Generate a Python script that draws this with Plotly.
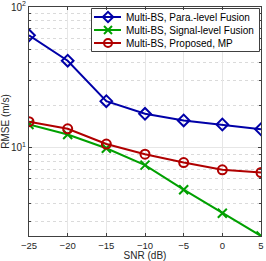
import plotly.graph_objects as go
import math

snr = [-25, -20, -15, -10, -5, 0, 5]
para_fusion = [62.9, 41.5, 21.4, 17.4, 15.6, 14.6, 13.5]
signal_fusion = [14.6, 12.4, 9.9, 7.5, 5.02, 3.41, 2.35]
proposed_mp = [15.3, 13.6, 10.6, 8.98, 7.83, 6.95, 6.65]
names = ["Multi-BS, Para.-level Fusion", "Multi-BS, Signal-level Fusion", "Multi-BS, Proposed, MP"]
colors = ["#0000a8", "#00a000", "#b00000"]
symbols = ["diamond-open", "x-thin-open", "circle-open"]
marker_sizes = [9, 9, 9]
x_ticks = [-25, -20, -15, -10, -5, 0, 5]
y_major = [10, 100]
y_major_text = ["10<sup>1</sup>", "10<sup>2</sup>"]
y_minor = [3, 4, 5, 6, 7, 8, 9, 20, 30, 40, 50, 60, 70, 80, 90]

# Plot area in page pixels (for the legend overlay)
W, H = 266, 261
ML, MR, MT, MB = 29, 5, 7, 25
PX0, PX1 = ML, W - MR
PY0, PY1 = MT, H - MB

fig = go.Figure()
for ys, nm, c, s, ms in zip([para_fusion, signal_fusion, proposed_mp], names, colors, symbols, marker_sizes):
    fig.add_trace(go.Scatter(
        x=snr, y=ys, name=nm, mode="lines+markers", showlegend=False,
        line=dict(color=c, width=2),
        marker=dict(symbol=s, size=ms, color=c, line=dict(color=c, width=2)),
    ))

# Legend (drawn on an overlay axis measured in page pixels)
LB_X0, LB_X1, LB_Y0, LB_Y1 = 91.5, 259.5, 8.5, 51.5
rows_y = [17, 30, 43]
fig.add_trace(go.Scatter(
    x=[LB_X0, LB_X1, LB_X1, LB_X0, LB_X0], y=[LB_Y0, LB_Y0, LB_Y1, LB_Y1, LB_Y0],
    xaxis="x2", yaxis="y2", mode="lines", fill="toself", fillcolor="white",
    line=dict(color="#404040", width=1), showlegend=False, hoverinfo="skip",
))
for ry, nm, c, s in zip(rows_y, names, colors, symbols):
    fig.add_trace(go.Scatter(
        x=[94, 121], y=[ry, ry], xaxis="x2", yaxis="y2", mode="lines",
        line=dict(color=c, width=2), showlegend=False, hoverinfo="skip",
    ))
    fig.add_trace(go.Scatter(
        x=[108], y=[ry], xaxis="x2", yaxis="y2", mode="markers",
        marker=dict(symbol=s, size=8, color=c, line=dict(color=c, width=2)),
        showlegend=False, hoverinfo="skip",
    ))
    fig.add_annotation(x=124, y=ry, xref="x2", yref="y2", text=nm, showarrow=False,
                       xanchor="left", yanchor="middle",
                       font=dict(size=10, color="#000000"))

font = "Liberation Sans, Arial, sans-serif"
fig.update_layout(
    width=W, height=H,
    margin=dict(l=ML, r=MR, t=MT, b=MB),
    paper_bgcolor="white", plot_bgcolor="white",
    font=dict(family=font, size=10, color="#262626"),
    showlegend=False,
    xaxis2=dict(overlaying="x", range=[PX0, PX1], visible=False, fixedrange=True),
    yaxis2=dict(overlaying="y", range=[PY1, PY0], visible=False, fixedrange=True),
)
fig.update_layout(xaxis=dict(
    range=[-25, 5], tickvals=x_ticks, ticks="inside", ticklen=3,
    tickcolor="#404040", showline=True, linecolor="#404040", linewidth=1,
    mirror="ticks", showgrid=True, gridcolor="#e6e6e6", gridwidth=1,
    zeroline=False, tickfont=dict(size=9.5, color="#262626"), automargin=False,
    ticklabelstandoff=1, ticklabeloverflow="allow",
    title=dict(text="SNR (dB)", font=dict(size=10, color="#262626"), standoff=0),
))
fig.update_layout(yaxis=dict(
    type="log", range=[math.log10(2.35), 2.0003],
    tickvals=y_major, ticktext=y_major_text, ticks="inside", ticklen=3,
    tickcolor="#404040", showline=True, linecolor="#404040", linewidth=1,
    mirror="ticks", showgrid=True, gridcolor="#e6e6e6", gridwidth=1,
    zeroline=False, tickfont=dict(size=10, color="#262626"), automargin=False,
    ticklabeloverflow="allow",
    minor=dict(tickvals=y_minor, ticks="inside", ticklen=2, tickcolor="#404040",
               showgrid=True, gridcolor="#dadada", griddash="dot", gridwidth=1),
    title=dict(text="RMSE (m/s)", font=dict(size=10, color="#262626"), standoff=0),
))
fig.write_html("out.html", config={"displayModeBar": False},
               post_script="document.body.style.margin='0px';")
